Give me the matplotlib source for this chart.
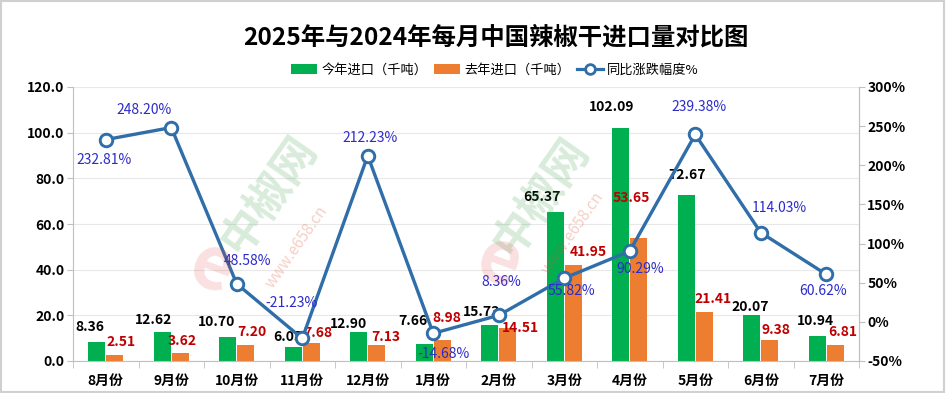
import matplotlib
matplotlib.use("Agg")
import matplotlib.pyplot as plt
from matplotlib.patches import Rectangle
from matplotlib.lines import Line2D
from matplotlib.patches import Patch
import numpy as np

plt.rcParams['font.family'] = ['Noto Sans CJK SC', 'DejaVu Sans']

# ---------------- data ----------------
months = ["8月份", "9月份", "10月份", "11月份", "12月份", "1月份", "2月份",
          "3月份", "4月份", "5月份", "6月份", "7月份"]
this_year = [8.36, 12.62, 10.70, 6.05, 12.90, 7.66, 15.73, 65.37, 102.09, 72.67, 20.07, 10.94]
last_year = [2.51, 3.62, 7.20, 7.68, 7.13, 8.98, 14.51, 41.95, 53.65, 21.41, 9.38, 6.81]
yoy_pct = [232.81, 248.20, 48.58, -21.23, 212.23, -14.68, 8.36, 55.82, 90.29, 239.38, 114.03, 60.62]
left_ticks = [0, 20, 40, 60, 80, 100, 120]
right_ticks = [-50, 0, 50, 100, 150, 200, 250, 300]

title = "2025年与2024年每月中国辣椒干进口量对比图"
legend_labels = ["今年进口（千吨）", "去年进口（千吨）", "同比涨跌幅度%"]

# label placement offsets (pixels): style only
g_off = [(-7, 15), (-9, 12), (-11, 15), (-5, 10), (-10, 8), (-11, 23), (-8, 13),
         (-13, 15), (-9, 21), (1, 20), (-1.5, 8), (-1.5, 15)]
o_off = [(6.5, 13), (2, 12), (6.5, 13), (7, 10), (9, 8), (5, 22), (13, 0),
         (15, 13), (-7, 40), (9, 13), (6, 10), (7.5, 13)]
p_off = [(-2, -20), (-27, 18), (11, 23), (-11, 35), (2, 18), (10, -21), (3, 33),
         (7, -13), (10, -18), (4, 27), (19, 25), (-3, -17)]

GREEN = "#00B050"
ORANGE = "#ED7D31"
LINE = "#2F6EA8"
PCT_COLOR = "#2B2BCB"
RED = "#C00000"

fig = plt.figure(figsize=(9.46, 3.93), dpi=100)
fig.patch.set_facecolor("white")
ax = fig.add_axes([73/946, 32/393, (859-73)/946, (361-87)/393])
ax2 = ax.twinx()

x = np.arange(len(months))
w = 0.26
off = 0.137

# watermark
for (gx, gy), (ux, uy), (ex, ey) in [((268, 195), (297, 247), (212, 268)),
                                     ((540, 197), (573, 233), (499, 262))]:
    fig.text(gx/946, 1-gy/393, "中椒网", fontsize=32, fontweight='bold', color="#3FA34D",
             alpha=0.2, rotation=55, ha='center', va='center', zorder=0.5)
    fig.text(ux/946, 1-uy/393, "www.e658.cn", fontsize=11, color="#E05030",
             alpha=0.28, rotation=55, ha='center', va='center', zorder=0.5)
    fig.text(ex/946, 1-ey/393, "e", fontsize=52, fontweight='bold', color="#E23B3B",
             alpha=0.16, rotation=-20, ha='center', va='center', zorder=0.5)

bars1 = ax.bar(x - off, this_year, width=w, color=GREEN, zorder=2)
bars2 = ax.bar(x + off, last_year, width=w, color=ORANGE, zorder=2)

ax.set_xlim(-0.5, len(months) - 0.5)
ax.set_ylim(left_ticks[0], left_ticks[-1])
ax.set_yticks(left_ticks)
ax.set_yticklabels([f"{v:.1f}" for v in left_ticks], fontsize=10, fontweight='bold')
ax.set_xticks(x)
ax.set_xticklabels(months, fontsize=10, fontweight='bold')
ax.set_xticks(np.arange(-0.5, len(months), 1), minor=True)
ax.tick_params(axis='x', which='major', length=0, pad=9)
ax.tick_params(axis='x', which='minor', length=5, color="#bfbfbf", direction='out')
ax.tick_params(axis='y', length=4, color="#bfbfbf", pad=2)
ax.yaxis.grid(True, color="#e8e8e8", linewidth=0.8)
ax.set_axisbelow(True)
ax.spines['top'].set_visible(False)
for s in ['left', 'bottom', 'right']:
    ax.spines[s].set_color("#bfbfbf")
ax.patch.set_alpha(0)

ax2.plot(x, yoy_pct, color=LINE, linewidth=2.4, marker='o', markersize=9,
         markerfacecolor='white', markeredgecolor=LINE, markeredgewidth=2.1, zorder=3)
ax2.set_ylim(right_ticks[0], right_ticks[-1])
ax2.set_yticks(right_ticks)
ax2.set_yticklabels([f"{v}%" for v in right_ticks], fontsize=10, fontweight='bold')
ax2.tick_params(axis='y', length=4, color="#bfbfbf", pad=2)
for s in ['top', 'left', 'bottom']:
    ax2.spines[s].set_visible(False)
ax2.spines['right'].set_color("#bfbfbf")

for i in range(len(months)):
    ax.annotate(f"{this_year[i]:.2f}", (x[i] - off, this_year[i]), xytext=g_off[i],
                textcoords='offset pixels', ha='center', va='center',
                fontsize=10, fontweight='bold', color='black', zorder=4)
    ax.annotate(f"{last_year[i]:.2f}", (x[i] + off, last_year[i]), xytext=o_off[i],
                textcoords='offset pixels', ha='center', va='center',
                fontsize=10, fontweight='bold', color=RED, zorder=4)
    ax2.annotate(f"{yoy_pct[i]:.2f}%", (x[i], yoy_pct[i]), xytext=p_off[i],
                 textcoords='offset pixels', ha='center', va='center',
                 fontsize=10, color=PCT_COLOR, zorder=4)

fig.text(496/946, 1-38/393, title, fontsize=17.6, fontweight='bold',
         ha='center', va='center')

handles = [Patch(facecolor=GREEN), Patch(facecolor=ORANGE),
           Line2D([0], [0], color=LINE, linewidth=2.3, marker='o', markersize=7,
                  markerfacecolor='white', markeredgewidth=2.0)]
fig.legend(handles, legend_labels, loc='center', bbox_to_anchor=(495/946, 1-70/393),
           ncol=3, frameon=False, fontsize=9.5, handlelength=2.0, handleheight=0.7,
           columnspacing=0.5, handletextpad=0.3, borderaxespad=0)

fig.add_artist(Rectangle((0.001, 0.002), 0.997, 0.995, transform=fig.transFigure,
                         fill=False, edgecolor="#d0d0d0", linewidth=1.5))

fig.savefig("out.png", dpi=100)
